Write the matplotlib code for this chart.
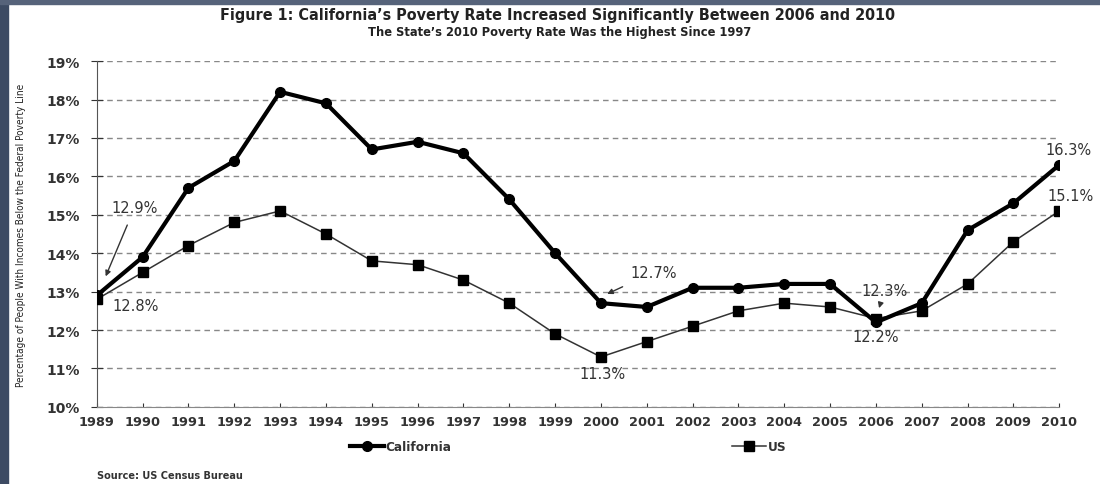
import matplotlib.pyplot as plt
from matplotlib.patches import Rectangle

years = list(range(1989, 2011))
california = [12.9, 13.9, 15.7, 16.4, 18.2, 17.9, 16.7, 16.9, 16.6, 15.4, 14.0,
              12.7, 12.6, 13.1, 13.1, 13.2, 13.2, 12.2, 12.7, 14.6, 15.3, 16.3]
us = [12.8, 13.5, 14.2, 14.8, 15.1, 14.5, 13.8, 13.7, 13.3, 12.7, 11.9,
      11.3, 11.7, 12.1, 12.5, 12.7, 12.6, 12.3, 12.5, 13.2, 14.3, 15.1]
yticks = list(range(10, 20))

plt.rcParams['font.family'] = ['DejaVu Sans']

fig = plt.figure(figsize=(11, 4.85), dpi=100)
# dark frame on left and top
fig.patches.append(Rectangle((0, 0), 8 / 1100, 1, transform=fig.transFigure,
                             color='#3d4b63', zorder=0))
fig.patches.append(Rectangle((0, 1 - 5 / 485), 1, 5 / 485, transform=fig.transFigure,
                             color='#56637a', zorder=0))

ax = fig.add_axes([0.088, 0.159, 0.875, 0.713])
ax.plot(years, california, color='black', lw=3, marker='o', ms=7, label='California', zorder=4)
ax.plot(years, us, color='#333333', lw=1.1, marker='s', ms=7, mfc='black', mec='black',
        label='US', zorder=3)

ax.set_xlim(1989, 2010)
ax.set_ylim(10, 19)
ax.set_xticks(years)
ax.set_yticks(yticks)
ax.set_yticklabels([f'{v}%' for v in yticks])
ax.tick_params(axis='x', labelsize=9.3, colors='#333333', direction='in', length=3, pad=6)
ax.tick_params(axis='y', labelsize=10, colors='#333333', direction='inout', length=8, pad=8)
for lbl in ax.get_xticklabels() + ax.get_yticklabels():
    lbl.set_fontweight('bold')
for s in ['top', 'right']:
    ax.spines[s].set_visible(False)
ax.spines['left'].set_color('#555555')
ax.spines['bottom'].set_color('#888888')
ax.yaxis.grid(True, linestyle=(0, (4, 3)), color='#888888', lw=1)
ax.set_axisbelow(True)

ax.set_ylabel('Percentage of People With Incomes Below the Federal Poverty Line',
              fontsize=7.2, fontstretch='condensed', color='#222222')
ax.yaxis.set_label_coords(-0.074, 0.5)

lab = dict(fontsize=10.5, color='#333333')
arr = dict(arrowstyle='-|>', color='#333333', lw=1, mutation_scale=8)
ax.annotate('12.9%', xy=(1989.17, 13.33), xytext=(1989.83, 15.2), ha='center', va='center',
            arrowprops=dict(arr, shrinkA=6), **lab)
ax.text(1989.35, 12.65, '12.8%', ha='left', va='center', **lab)
ax.annotate('12.7%', xy=(2000.08, 12.91), xytext=(2001.15, 13.5), ha='center', va='center',
            arrowprops=dict(arr, shrinkA=7), **lab)
ax.text(2000.03, 10.88, '11.3%', ha='center', va='center', **lab)
ax.annotate('12.3%', xy=(2006.05, 12.5), xytext=(2006.18, 13.02), ha='center', va='center',
            arrowprops=arr, **lab)
ax.text(2006.0, 11.82, '12.2%', ha='center', va='center', **lab)
ax.text(2010.2, 16.71, '16.3%', ha='center', va='center', clip_on=False, **lab)
ax.text(2010.24, 15.49, '15.1%', ha='center', va='center', clip_on=False, **lab)

leg = ax.legend(loc='center', bbox_to_anchor=(0.4896, -0.116), ncol=2, frameon=False,
                handlelength=2.8, columnspacing=23.3, handletextpad=0.1,
                prop={'size': 8.7, 'weight': 'bold'})
for t in leg.get_texts():
    t.set_color('#333333')

fig.text(0.507, 0.968, "Figure 1: California\u2019s Poverty Rate Increased Significantly Between 2006 and 2010",
         ha='center', va='center', fontsize=11.5, fontstretch='condensed', fontweight='bold',
         color='#222222')
fig.text(0.509, 0.932, "The State\u2019s 2010 Poverty Rate Was the Highest Since 1997",
         ha='center', va='center', fontsize=9.2, fontstretch='condensed', fontweight='bold',
         color='#222222')
fig.text(0.088, 0.018, 'Source: US Census Bureau', ha='left', va='center', fontsize=7,
         fontweight='bold', color='#333333')

fig.savefig('out.png', dpi=100)
